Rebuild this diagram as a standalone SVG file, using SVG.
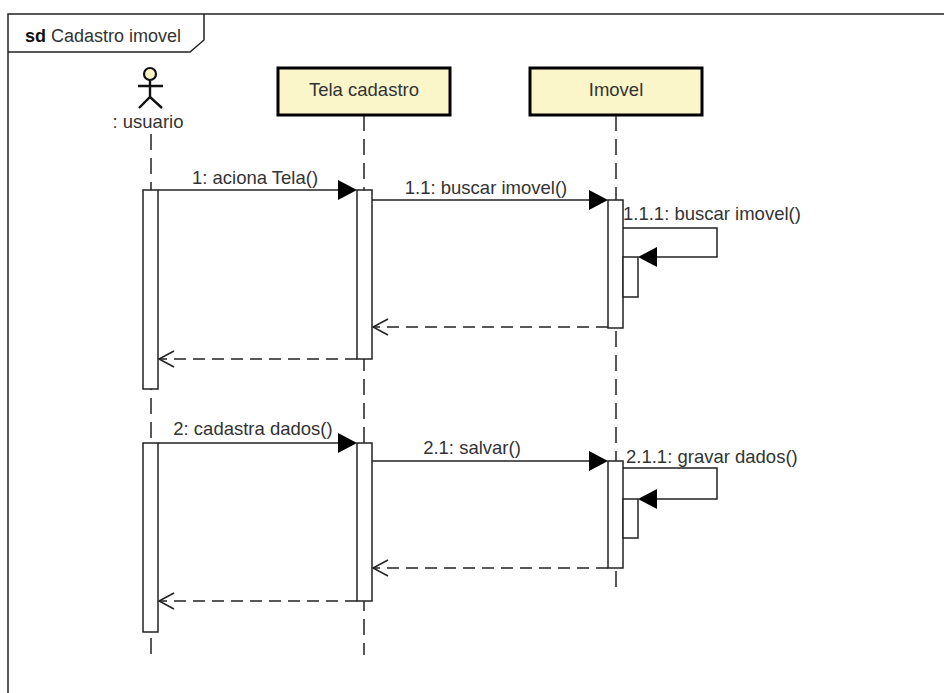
<svg xmlns="http://www.w3.org/2000/svg" width="944" height="693" viewBox="0 0 944 693">
<defs>
<style>
text{font-family:"Liberation Sans",Arial,sans-serif;font-size:18.5px;fill:#333}
.ln{stroke:#222;stroke-width:1.5;fill:none}
.ll{stroke:#222;stroke-width:1.5;fill:none;stroke-dasharray:16,8}
.ret{stroke:#222;stroke-width:1.5;fill:none;stroke-dasharray:12,7}
.bar{fill:#fff;stroke:#222;stroke-width:1.5}
.hd{fill:#000;stroke:none}
.box{fill:#FBF6C9;stroke:#000;stroke-width:3}
</style>
</defs>
<rect width="944" height="693" fill="#fff"/>
<g id="frame">
<path class="ln" d="M8,705 L8,14 L950,14"/>
<path class="ln" d="M8,52 L190,52 L204,40 L204,14"/>
<text x="25" y="42" style="font-size:18px"><tspan font-weight="bold" fill="#111">sd</tspan> Cadastro imovel</text>
</g>
<g id="lifelines">
<line class="ll" x1="151" y1="134" x2="151" y2="655"/>
<line class="ll" x1="364" y1="115" x2="364" y2="655"/>
<line class="ll" x1="616" y1="115" x2="616" y2="595"/>
</g>
<g id="usuario">
<circle cx="150" cy="74" r="6" fill="#FBF6C9" stroke="#111" stroke-width="2.2"/>
<path d="M150,80 L150,97 M138,86 L163,86 M139,108 L150,97 L162,108" stroke="#111" stroke-width="2.4" fill="none"/>
<text x="148" y="128" text-anchor="middle">: usuario</text>
</g>
<g id="tela">
<rect class="box" x="278" y="68" width="172" height="47"/>
<text x="364" y="96" text-anchor="middle">Tela cadastro</text>
</g>
<g id="imovel">
<rect class="box" x="530" y="68" width="172" height="47"/>
<text x="616" y="96" text-anchor="middle">Imovel</text>
</g>
<g id="activations">
<rect class="bar" x="143" y="190" width="15" height="199"/>
<rect class="bar" x="357" y="190" width="15" height="169"/>
<rect class="bar" x="608" y="200" width="15" height="128"/>
<rect class="bar" x="623" y="257" width="15" height="40"/>
<rect class="bar" x="143" y="443" width="15" height="189"/>
<rect class="bar" x="357" y="443" width="15" height="158"/>
<rect class="bar" x="608" y="461" width="15" height="107"/>
<rect class="bar" x="623" y="499" width="15" height="39"/>
</g>
<g id="connectors">
<line class="ln" x1="158" y1="190" x2="340" y2="190"/>
<path class="hd" d="M357,190 L338,180 L338,200 Z"/>
<text x="255" y="184" text-anchor="middle">1: aciona Tela()</text>
<line class="ln" x1="372" y1="200" x2="592" y2="200"/>
<path class="hd" d="M608,200 L589,190 L589,210 Z"/>
<text x="486" y="194" text-anchor="middle">1.1: buscar imovel()</text>
<path class="ln" d="M623,228 L717,228 L717,257 L654,257"/>
<path class="hd" d="M638,257 L657,247 L657,267 Z"/>
<text x="623" y="220">1.1.1: buscar imovel()</text>
<line class="ret" x1="608" y1="327" x2="373" y2="327"/>
<path class="ln" d="M388,319 L373,327 L388,335"/>
<line class="ret" x1="357" y1="359" x2="159" y2="359"/>
<path class="ln" d="M174,351 L159,359 L174,367"/>
<line class="ln" x1="158" y1="443" x2="340" y2="443"/>
<path class="hd" d="M357,443 L338,433 L338,453 Z"/>
<text x="253" y="435" text-anchor="middle">2: cadastra dados()</text>
<line class="ln" x1="372" y1="461" x2="592" y2="461"/>
<path class="hd" d="M608,461 L589,451 L589,471 Z"/>
<text x="472" y="454" text-anchor="middle">2.1: salvar()</text>
<path class="ln" d="M623,468 L717,468 L717,499 L654,499"/>
<path class="hd" d="M638,499 L657,489 L657,509 Z"/>
<text x="626" y="463">2.1.1: gravar dados()</text>
<line class="ret" x1="608" y1="568" x2="373" y2="568"/>
<path class="ln" d="M388,560 L373,568 L388,576"/>
<line class="ret" x1="357" y1="601" x2="159" y2="601"/>
<path class="ln" d="M174,593 L159,601 L174,609"/>
</g>
</svg>
